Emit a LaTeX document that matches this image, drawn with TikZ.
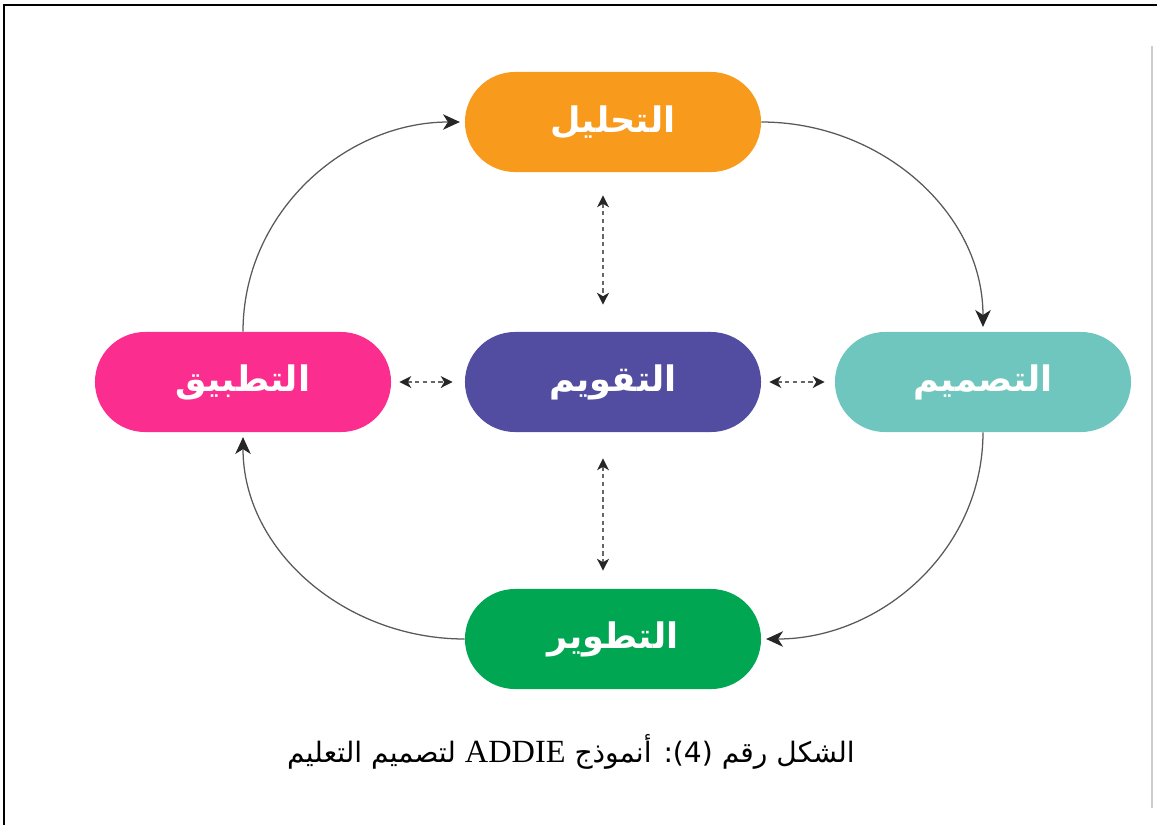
\documentclass[tikz,border=0pt]{standalone}
\usepackage{fontspec}
\setmainfont{Liberation Serif}
\newfontfamily\arabicfont[Script=Arabic]{DejaVu Sans}
\TeXXeTstate=1
\usetikzlibrary{arrows.meta}

\definecolor{tahlilc}{HTML}{F89A1C}
\definecolor{tasmimc}{HTML}{6EC6BE}
\definecolor{taqwimc}{HTML}{524DA0}
\definecolor{tatbiqc}{HTML}{FB2E8F}
\definecolor{tatwirc}{HTML}{00A651}

\newcommand{\Ar}[1]{\arabicfont\beginR #1\endR}

\begin{document}
\begin{tikzpicture}[x=0.025cm, y=-0.025cm,
    phase/.style={rounded corners=1.25cm, minimum width=7.4cm, minimum height=2.5cm,
        inner sep=0pt, text=white, font=\bfseries\fontsize{25}{28}\selectfont},
    turn/.style={draw=black!65, line width=0.9pt, shorten >=0.12cm,
        -{Stealth[length=12pt, width=11pt, inset=3.5pt, color=black!85]}},
    evalarrow/.style={draw=black!60, line width=0.8pt, dash pattern=on 3pt off 2.5pt,
        {Stealth[length=8.5pt, width=8.5pt, inset=2.5pt, color=black!85]}-{Stealth[length=8.5pt, width=8.5pt, inset=2.5pt, color=black!85]}}]
    \useasboundingbox (0,0) rectangle (1160,825);

    % frame
    \draw[line width=2pt] (1157,5) -- (4,5) -- (4,825);
    \draw[black!20, line width=1pt] (1152,46) -- (1152,808);

    % phases
    \node[phase, fill=tahlilc] (tahlil) at (613,122) {\Ar{التحليل}};
    \node[phase, fill=tasmimc] (tasmim) at (983,382) {\Ar{التصميم}};
    \node[phase, fill=taqwimc] (taqwim) at (613,382) {\Ar{التقويم}};
    \node[phase, fill=tatbiqc] (tatbiq) at (243,382) {\Ar{التطبيق}};
    \node[phase, fill=tatwirc] (tatwir) at (613,639) {\Ar{التطوير}};

    % cycle
    \draw[turn] (tahlil.east) to[out=0, in=90] (tasmim.north);
    \draw[turn] (tasmim.south) to[out=-90, in=0] (tatwir.east);
    \draw[turn] (tatwir.west) to[out=180, in=-90] (tatbiq.south);
    \draw[turn] (tatbiq.north) to[out=90, in=180] (tahlil.west);

    % evaluation links
    \draw[evalarrow, shorten <=0.575cm, shorten >=0.675cm]
        ([xshift=-0.25cm]tahlil.south) -- ([xshift=-0.25cm]taqwim.north);
    \draw[evalarrow, shorten <=0.65cm, shorten >=0.45cm]
        ([xshift=-0.25cm]taqwim.south) -- ([xshift=-0.25cm]tatwir.north);
    \draw[evalarrow, shorten <=0.2cm, shorten >=0.3cm] (tatbiq.east) -- (taqwim.west);
    \draw[evalarrow, shorten <=0.2cm, shorten >=0.25cm] (taqwim.east) -- (tasmim.west);

    % caption
    \node (caption) at (571,752) {\fontsize{20}{24}\selectfont
        \arabicfont\beginR الشكل رقم (4): أنموذج \beginL{\rmfamily\fontsize{23}{24}\selectfont ADDIE}\endL{} لتصميم التعليم\endR};
\end{tikzpicture}
\end{document}
